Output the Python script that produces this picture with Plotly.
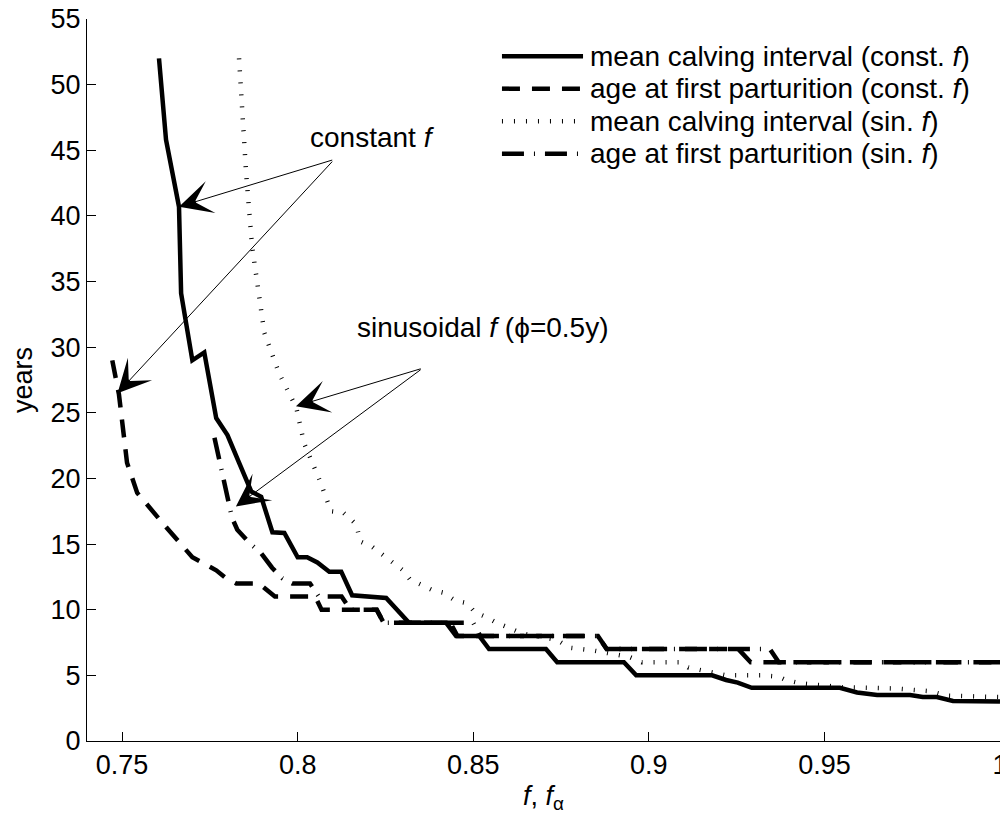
import plotly.graph_objects as go

# ---- data ----
mci_const_x = [0.7605, 0.7625, 0.7662, 0.7668, 0.7700, 0.7734, 0.7768, 0.7800, 0.7833, 0.7868,
               0.7896, 0.7928, 0.7962, 0.8000, 0.8027, 0.8056, 0.8090, 0.8124, 0.8155, 0.8195,
               0.8252, 0.8317, 0.8423, 0.8451, 0.8517, 0.8545, 0.8707, 0.8739, 0.8929, 0.8964,
               0.9180, 0.9220, 0.9253, 0.9293, 0.9544, 0.9593, 0.9650, 0.9744, 0.9780, 0.9820,
               0.9866, 1.0]
mci_const_y = [52.0, 45.8, 40.7, 34.1, 29.0, 29.6, 24.6, 23.3, 21.2, 19.0,
               18.6, 15.9, 15.85, 14.0, 14.0, 13.6, 12.9, 12.9, 11.1, 11.0,
               10.9, 9.0, 9.0, 8.0, 8.0, 7.0, 7.0, 6.0, 6.0, 5.0,
               5.0, 4.65, 4.45, 4.05, 4.05, 3.7, 3.5, 3.5, 3.35, 3.35,
               3.05, 3.0]

afp_const_x = [0.7472, 0.7491, 0.7514, 0.7543, 0.7625, 0.7700, 0.7768, 0.7796, 0.7825, 0.7890,
               0.7935, 0.8050, 0.8068, 0.8225, 0.8245, 0.8435, 0.8455, 0.8855, 0.8880, 0.9255,
               0.9290, 1.0]
afp_const_y = [29.0, 26.4, 21.2, 18.9, 16.3, 14.0, 13.0, 12.4, 12.0, 12.0,
               11.0, 11.0, 10.0, 10.0, 9.0, 9.0, 8.0, 8.0, 7.0, 7.0,
               6.0, 6.0]

mci_sin_x = [0.7833, 0.7853, 0.7870, 0.7905, 0.7947, 0.7996, 0.8018, 0.8062, 0.8095, 0.8130,
             0.8167, 0.8178, 0.8212, 0.8272, 0.8300, 0.8320, 0.8354, 0.8383, 0.8414, 0.8448,
             0.8482, 0.8505, 0.8540, 0.8567, 0.8604, 0.8638, 0.8738, 0.8775, 0.8840, 0.8890,
             0.8945, 0.8980, 0.9090, 0.9112, 0.9220, 0.9320, 0.9370, 0.9390, 0.9431, 0.9550,
             0.9700, 0.9800, 0.9850, 1.0]
mci_sin_y = [52.0, 43.3, 37.7, 31.1, 28.0, 25.4, 22.7, 19.9, 17.5, 17.4,
             16.5, 15.2, 14.8, 13.6, 13.0, 12.3, 11.9, 11.5, 11.3, 10.7,
             10.5, 9.8, 9.4, 9.0, 8.6, 8.2, 7.7, 7.1, 6.9, 6.7,
             6.4, 6.0, 6.0, 5.6, 5.0, 5.0, 4.9, 4.65, 4.4, 4.1,
             4.0, 3.8, 3.45, 3.35]

afp_sin_x = [0.7763, 0.7805, 0.7813, 0.7828, 0.7862, 0.7896, 0.7927, 0.7956, 0.7985, 0.8035,
             0.8060, 0.8125, 0.8150, 0.8225, 0.8245, 0.8500, 0.8520, 0.8855, 0.8880, 0.9345,
             0.9370, 1.0]
afp_sin_y = [23.1, 17.8, 17.0, 16.1, 15.1, 14.3, 13.2, 12.4, 12.0, 12.0,
             11.0, 11.0, 10.0, 10.0, 9.0, 9.0, 8.0, 8.0, 7.0, 7.0,
             6.0, 6.0]

series_names = [
    "mean calving interval (const. <i>f</i>)",
    "age at first parturition (const. <i>f</i>)",
    "mean calving interval (sin. <i>f</i>)",
    "age at first parturition (sin. <i>f</i>)",
]

x_tickvals = [0.75, 0.8, 0.85, 0.9, 0.95, 1.0]
x_ticktext = ["0.75", "0.8", "0.85", "0.9", "0.95", "1"]
y_tickvals = [0, 5, 10, 15, 20, 25, 30, 35, 40, 45, 50, 55]

# annotation arrows: (tip_x, tip_y, tail_x, tail_y)
const_arrows = [(0.7662, 40.7, 0.8104, 44.3), (0.7487, 26.5, 0.8104, 44.3)]
sin_arrows = [(0.7995, 25.5, 0.8356, 28.4), (0.7824, 17.86, 0.8356, 28.4)]

# ---- styles ----
FONT = "Liberation Sans, Arial, Helvetica, sans-serif"
FS_TICK = 27
FS_TXT = 28
styles = [
    dict(color="black", width=4.5, dash="solid"),
    dict(color="black", width=4.5, dash="18px,12px"),
    dict(color="black", width=4.5, dash="1px,11px"),
    dict(color="black", width=4.5, dash="22px,10px,1px,10px"),
]

fig = go.Figure()
for xs, ys, nm, st in zip([mci_const_x, afp_const_x, mci_sin_x, afp_sin_x],
                          [mci_const_y, afp_const_y, mci_sin_y, afp_sin_y],
                          series_names, styles):
    fig.add_trace(go.Scatter(x=xs, y=ys, mode="lines", name=nm, line=st,
                             showlegend=False))

annotations = []
for tx, ty, ax, ay in const_arrows + sin_arrows:
    annotations.append(dict(x=tx, y=ty, ax=ax, ay=ay, xref="x", yref="y",
                            axref="x", ayref="y", text=" ", showarrow=True,
                            arrowhead=3, arrowsize=5.5, arrowwidth=1,
                            arrowcolor="black", standoff=0,
                            font=dict(size=2)))
annotations.append(dict(x=0.8214, y=46.0, xref="x", yref="y", text="constant <i>f</i>",
                        showarrow=False, xanchor="center", yanchor="middle",
                        font=dict(family=FONT, size=FS_TXT, color="black")))
annotations.append(dict(x=0.8526, y=31.5, xref="x", yref="y",
                        text="sinusoidal <i>f</i> (ϕ=0.5y)",
                        showarrow=False, xanchor="center", yanchor="middle",
                        font=dict(family=FONT, size=FS_TXT, color="black")))

# manual legend (paper coordinates)
shapes = []
leg_rows = [0.9485, 0.9035, 0.8585, 0.8135]
for yy, nm, st in zip(leg_rows, series_names, styles):
    shapes.append(dict(type="line", xref="paper", yref="paper",
                       x0=0.4545, x1=0.5433, y0=yy, y1=yy, line=st))
    annotations.append(dict(x=0.5487, y=yy, xref="paper", yref="paper", text=nm,
                            showarrow=False, xanchor="left", yanchor="middle",
                            font=dict(family=FONT, size=FS_TXT, color="black")))

# the page body adds an 8px margin; size the figure to fit the window
fig.update_layout(
    width=1000, height=819,
    margin=dict(l=79, r=8, t=11, b=86),
    paper_bgcolor="white", plot_bgcolor="white",
    font=dict(family=FONT, size=FS_TICK, color="black"),
    showlegend=False,
    annotations=annotations,
    shapes=shapes,
    xaxis=dict(range=[0.74, 1.0], tickvals=x_tickvals, ticktext=x_ticktext,
               automargin=False, ticklabeloverflow="allow",
               ticks="inside", ticklen=9, tickwidth=1, tickcolor="black",
               showline=True, linecolor="black", linewidth=1, mirror=False,
               showgrid=False, zeroline=False,
               tickfont=dict(family=FONT, size=FS_TICK, color="black"),
               title=dict(text="<i>f</i>, <i>f</i><sub>α</sub>", standoff=6,
                          font=dict(family=FONT, size=FS_TICK, color="black"))),
    yaxis=dict(range=[0, 55], tickvals=y_tickvals,
               automargin=False, ticklabeloverflow="allow",
               ticks="inside", ticklen=9, tickwidth=1, tickcolor="black",
               showline=True, linecolor="black", linewidth=1, mirror=False,
               showgrid=False, zeroline=False,
               tickfont=dict(family=FONT, size=FS_TICK, color="black"),
               title=dict(text="years", standoff=20,
                          font=dict(family=FONT, size=FS_TICK, color="black"))),
)

fig.write_html("out.html")
